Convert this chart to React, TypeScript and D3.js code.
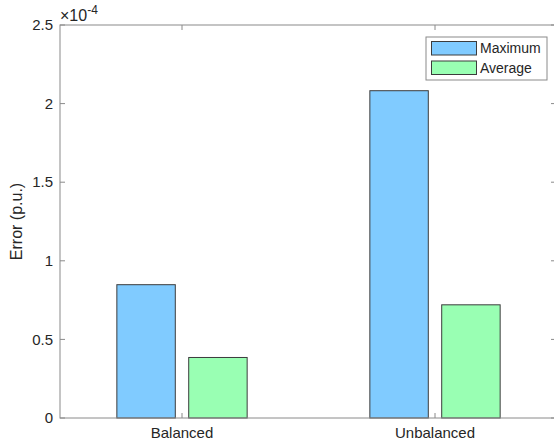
import React from "react";
import * as d3 from "d3";

const categories = ["Balanced", "Unbalanced"];
const seriesNames = ["Maximum", "Average"];
const maximumValues = [0.848, 2.082];
const averageValues = [0.385, 0.72];
const yTicks = [0, 0.5, 1, 1.5, 2, 2.5];
const yTickLabels = ["0", "0.5", "1", "1.5", "2", "2.5"];
const colors = ["#80CBFF", "#99FFB3"];

export default function App() {
  const W = 554, H = 448;
  const left = 60, top = 25, bottom = 418;
  const right = 556;
  const x = d3.scaleLinear().domain([1, 2]).range([182, 435]);
  const y = d3.scaleLinear().domain([0, 2.5]).range([bottom, top]);
  const barW = 0.231;
  const offsets = [-0.142, 0.142];
  const series = [maximumValues, averageValues];
  const axisColor = "#8a8a8a";
  const textColor = "#262626";
  const font = "'Liberation Sans', Arial, sans-serif";
  const lx = 426, ly = 37, lw = 121, lh = 43;
  return (
    <svg width={W} height={H} style={{ position: "absolute", left: 0, top: 0, background: "#fff" }} fontFamily={font}>
      <rect x={0} y={0} width={W} height={H} fill="#fff" />
      {series.map((vals, si) =>
        vals.map((v, ci) => {
          const cx = x(ci + 1) + (x(1 + offsets[si]) - x(1));
          const w = x(1 + barW) - x(1);
          return (
            <rect key={si + "-" + ci} x={cx - w / 2} y={y(v)} width={w} height={y(0) - y(v)}
              fill={colors[si]} stroke="#3c3c3c" strokeWidth={1} />
          );
        })
      )}
      <rect x={left} y={top} width={right - left} height={bottom - top} fill="none" stroke={axisColor} strokeWidth={1} />
      {yTicks.map((t, i) => (
        <g key={"yt" + i}>
          <line x1={left} x2={left + 5} y1={y(t)} y2={y(t)} stroke={axisColor} />
          <line x1={right - 5} x2={right} y1={y(t)} y2={y(t)} stroke={axisColor} />
          <text x={left - 7} y={y(t)} dy="0.35em" textAnchor="end" fontSize={15} fill={textColor}>{yTickLabels[i]}</text>
        </g>
      ))}
      {categories.map((c, i) => (
        <g key={"xt" + i}>
          <line x1={x(i + 1)} x2={x(i + 1)} y1={bottom} y2={bottom - 5} stroke={axisColor} />
          <line x1={x(i + 1)} x2={x(i + 1)} y1={top} y2={top + 5} stroke={axisColor} />
          <text x={x(i + 1)} y={bottom + 20} textAnchor="middle" fontSize={15} fill={textColor}>{c}</text>
        </g>
      ))}
      <text x={60} y={21} fontSize={16} fill={textColor}>
        ×10<tspan fontSize={12} dy={-7}>-4</tspan>
      </text>
      <text transform={`translate(22,${(top + bottom) / 2}) rotate(-90)`} textAnchor="middle" fontSize={16} fill={textColor}>Error (p.u.)</text>
      <rect x={lx} y={ly} width={lw} height={lh} fill="#fff" stroke={axisColor} />
      {seriesNames.map((s, i) => (
        <g key={"lg" + i}>
          <rect x={lx + 5.5} y={ly + 4.5 + i * 19.5} width={45} height={13.5} fill={colors[i]} stroke="#3c3c3c" />
          <text x={lx + 54} y={ly + 11.5 + i * 19.5} dy="0.35em" fontSize={14} fill={textColor}>{s}</text>
        </g>
      ))}
    </svg>
  );
}
